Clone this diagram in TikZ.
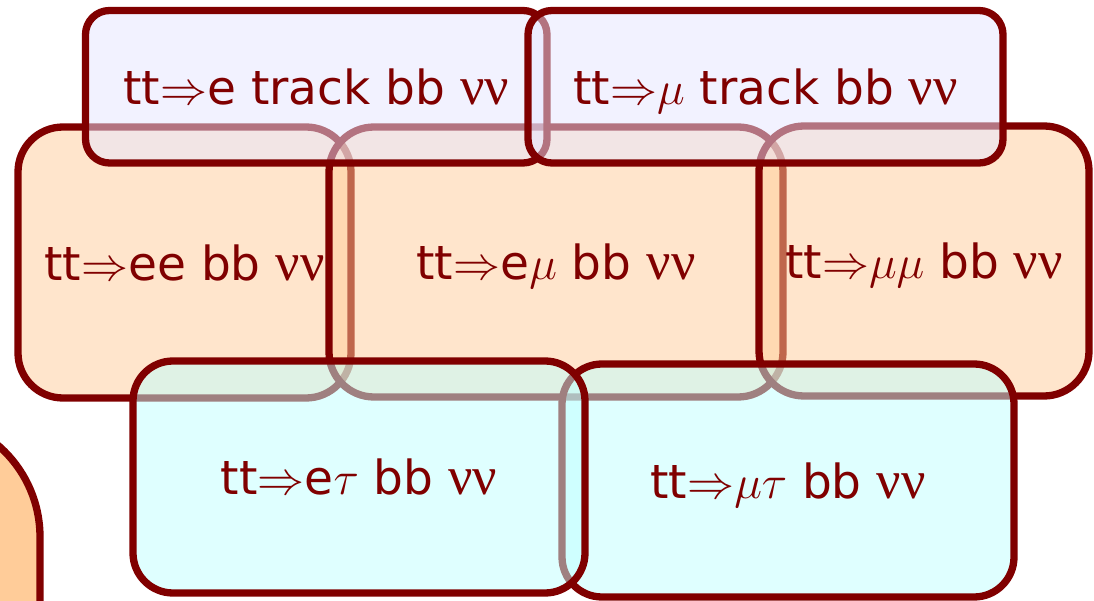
\RequirePackage{fix-cm}
\documentclass[tikz,border=0pt]{standalone}
\usepackage{fontspec}
\setmainfont{DejaVu Sans}
\newfontfamily\grk[Scale=1.15]{Liberation Serif}
\newcommand{\gnn}{{\grk νν}}
\definecolor{boxline}{RGB}{128,0,0}
\definecolor{leptonfill}{RGB}{255,204,153}
\definecolor{trackfill}{RGB}{230,230,255}
\definecolor{taufill}{RGB}{191,255,255}
\tikzset{
  venn/.style={draw=boxline, line width=7.3pt, text=boxline,
    fill opacity=0.5, text opacity=1, inner sep=0pt,
    font=\fontsize{47}{56}\selectfont, text height=35.7pt, text depth=0pt},
  lepton/.style={venn, fill=leptonfill, rounded corners=45pt},
  trackbox/.style={venn, fill=trackfill, rounded corners=24pt},
  taubox/.style={venn, fill=taufill, rounded corners=40pt},
  boxsize/.style 2 args={minimum width=#1pt, minimum height=#2pt}
}
\begin{document}
\begin{tikzpicture}[x=1pt,y=-1pt]
\useasboundingbox (0,0) rectangle (1094,601);
\begin{scope}
\clip (0,0) rectangle (1094,601);
% corner of a neighbouring box, mostly outside the frame
\node[lepton, fill opacity=1, rounded corners=121pt, boxsize={440}{484}] (cut) at (-180,658) {};
% dilepton row
\node[lepton, boxsize={333}{271}] (ee) at (184.5,262.5) {tt$\Rightarrow$ee bb \gnn};
\node[lepton, boxsize={454}{270}] (emu) at (556,262) {tt$\Rightarrow$e$\mu$ bb \gnn};
\node[lepton, boxsize={330}{270}] (mumu) at (924,261) {tt$\Rightarrow$$\mu\mu$ bb \gnn};
% lepton + track row
\node[trackbox, boxsize={461.5}{152.5}] (etrk) at (316.25,86.75) {tt$\Rightarrow$e track bb \gnn};
\node[trackbox, boxsize={475}{152.5}] (mutrk) at (765.5,86.75) {tt$\Rightarrow$$\mu$ track bb \gnn};
% lepton + tau row
\node[taubox, boxsize={452}{233}] (mutau) at (788,480.5) {tt$\Rightarrow$$\mu\tau$ bb \gnn};
\node[taubox, boxsize={452}{232}] (etau) at (359,477) {tt$\Rightarrow$e$\tau$ bb \gnn};
\end{scope}
\end{tikzpicture}
\end{document}
